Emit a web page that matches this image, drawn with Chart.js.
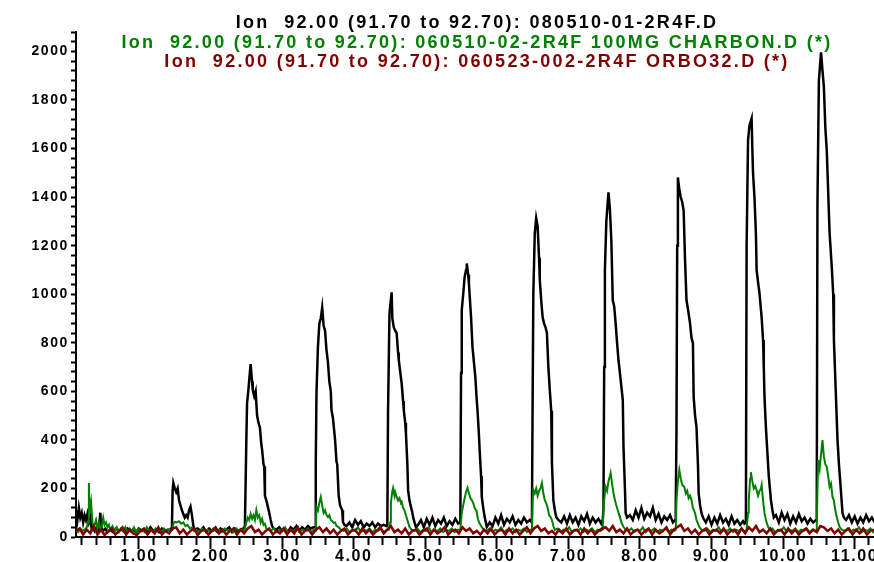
<!DOCTYPE html>
<html><head><meta charset="utf-8">
<script src="https://cdn.jsdelivr.net/npm/chart.js@4.4.1/dist/chart.umd.min.js"></script>
<style>html,body{margin:0;padding:0;background:#fff;}#wrap{width:874px;height:562px;}</style>
</head><body><div id="wrap"><canvas id="c" width="874" height="562"></canvas></div>
<script>
const titleLines = [
  "Ion  92.00 (91.70 to 92.70): 080510-01-2R4F.D",
  "Ion  92.00 (91.70 to 92.70): 060510-02-2R4F 100MG CHARBON.D (*)",
  "Ion  92.00 (91.70 to 92.70): 060523-002-2R4F ORBO32.D (*)"
];
const seriesColors = ["#000000", "#008000", "#800000"];

// [time (min), abundance]
const blackTrace = [
[0.12,110],[0.14,70],[0.16,120],[0.18,80],[0.20,100],[0.22,60],[0.24,90],[0.26,70],[0.28,95],[0.30,60],[0.32,80],[0.34,30],[0.36,40],[0.38,25],[0.40,35],[0.42,20],[0.44,30],[0.46,100],[0.47,40],[0.50,25],[0.53,35],[0.56,20],[0.60,30],[0.64,20],[0.68,35],[0.72,25],[0.76,30],[0.80,20],[0.84,35],[0.88,25],[0.92,30],[0.96,20],[1.00,35],[1.04,25],[1.08,30],[1.12,20],[1.16,40],[1.20,25],[1.24,30],[1.28,20],[1.32,35],[1.36,25],[1.40,30],[1.44,30],
[1.46,40],[1.47,190],[1.48,222],[1.50,200],[1.52,185],[1.54,200],[1.56,150],[1.58,130],[1.60,110],[1.62,95],[1.64,80],[1.66,90],[1.68,80],[1.70,110],[1.72,125],[1.74,90],[1.76,45],[1.78,30],
[1.82,35],[1.86,25],[1.90,40],[1.94,20],[1.98,35],[2.02,25],[2.06,30],[2.10,20],[2.14,35],[2.18,25],[2.22,30],[2.26,40],[2.30,20],[2.34,35],[2.38,25],[2.42,30],[2.46,35],
[2.48,45],[2.49,220],[2.50,400],[2.51,550],[2.53,610],[2.55,680],[2.56,712],[2.58,640],[2.59,605],[2.61,580],[2.63,600],[2.65,500],[2.67,470],[2.69,450],[2.71,380],[2.72,360],[2.74,300],[2.75,290],[2.76,170],[2.78,150],[2.80,125],[2.82,100],[2.84,70],[2.86,45],[2.88,35],
[2.92,30],[2.96,40],[3.00,25],[3.04,35],[3.08,20],[3.12,40],[3.16,30],[3.20,45],[3.24,25],[3.28,40],[3.32,30],[3.36,45],[3.40,35],[3.44,40],
[3.46,40],[3.47,300],[3.48,590],[3.50,780],[3.52,880],[3.54,900],[3.56,945],[3.58,870],[3.60,850],[3.62,770],[3.64,720],[3.66,640],[3.68,600],[3.69,523],[3.71,490],[3.73,430],[3.74,400],[3.76,310],[3.77,300],[3.79,170],[3.81,130],[3.84,110],[3.85,62],[3.87,50],
[3.90,45],[3.94,60],[3.98,40],[4.02,70],[4.06,50],[4.10,65],[4.14,40],[4.18,55],[4.22,45],[4.26,60],[4.30,40],[4.34,55],[4.38,45],[4.42,50],[4.46,45],
[4.47,50],[4.48,520],[4.50,920],[4.53,1008],[4.54,900],[4.56,864],[4.58,850],[4.60,840],[4.62,760],[4.63,728],[4.65,680],[4.67,634],[4.69,560],[4.70,523],[4.72,470],[4.73,428],[4.75,300],[4.76,193],[4.78,150],[4.80,124],[4.82,100],[4.83,82],[4.85,60],[4.87,41],
[4.90,50],[4.94,70],[4.98,40],[5.02,75],[5.06,50],[5.10,80],[5.14,45],[5.18,70],[5.22,55],[5.26,80],[5.30,45],[5.34,65],[5.38,50],[5.42,75],[5.46,55],[5.49,60],
[5.50,675],[5.51,934],[5.53,1000],[5.55,1070],[5.57,1100],[5.58,1127],[5.60,1080],[5.61,1045],[5.63,950],[5.64,905],[5.66,782],[5.68,720],[5.70,658],[5.72,560],[5.73,523],[5.75,420],[5.76,358],[5.78,250],[5.79,165],[5.81,120],[5.83,82],[5.86,41],
[5.90,60],[5.94,45],[5.98,80],[6.02,55],[6.06,90],[6.10,50],[6.14,75],[6.18,60],[6.22,85],[6.26,50],[6.30,70],[6.34,55],[6.38,80],[6.42,60],[6.46,70],[6.49,60],
[6.50,551],[6.51,1000],[6.53,1250],[6.55,1313],[6.57,1280],[6.59,1150],[6.60,1060],[6.62,975],[6.64,905],[6.66,880],[6.68,864],[6.70,840],[6.72,700],[6.74,605],[6.76,520],[6.77,305],[6.79,152],[6.81,111],[6.83,82],[6.86,70],
[6.90,60],[6.94,85],[6.98,55],[7.02,90],[7.06,60],[7.10,80],[7.14,50],[7.18,85],[7.22,65],[7.26,95],[7.30,55],[7.34,80],[7.38,60],[7.42,75],[7.46,55],[7.48,70],
[7.49,120],[7.50,700],[7.51,1100],[7.53,1300],[7.55,1380],[7.56,1420],[7.58,1350],[7.60,1222],[7.62,975],[7.64,950],[7.66,880],[7.68,800],[7.70,728],[7.72,675],[7.74,620],[7.76,564],[7.77,370],[7.79,200],[7.80,99],[7.82,80],
[7.86,90],[7.90,70],[7.94,110],[7.98,80],[8.02,120],[8.06,75],[8.10,100],[8.14,85],[8.18,120],[8.22,70],[8.26,95],[8.30,60],[8.34,85],[8.38,70],[8.42,90],[8.46,60],[8.49,70],
[8.50,120],[8.51,428],[8.52,1200],[8.53,1481],[8.55,1430],[8.57,1400],[8.59,1380],[8.61,1345],[8.63,1140],[8.65,975],[8.67,940],[8.70,880],[8.72,820],[8.74,798],[8.75,577],[8.77,500],[8.79,453],[8.81,300],[8.82,181],[8.84,130],[8.86,99],[8.88,80],
[8.92,60],[8.96,85],[9.00,50],[9.04,80],[9.08,55],[9.12,90],[9.16,60],[9.20,75],[9.24,50],[9.28,85],[9.32,55],[9.36,70],[9.40,50],[9.44,65],[9.46,55],[9.48,60],
[9.49,1193],[9.51,1634],[9.53,1695],[9.56,1724],[9.57,1600],[9.58,1498],[9.60,1399],[9.62,1251],[9.63,1099],[9.65,1050],[9.67,1004],[9.70,905],[9.72,811],[9.73,700],[9.74,577],[9.76,450],[9.77,399],[9.80,250],[9.83,152],[9.85,111],[9.87,80],
[9.90,90],[9.94,60],[9.98,100],[10.02,70],[10.06,95],[10.10,55],[10.14,85],[10.18,60],[10.22,95],[10.26,65],[10.30,80],[10.34,55],[10.38,75],[10.42,60],[10.46,70],
[10.47,120],[10.48,1374],[10.50,1881],[10.53,1996],[10.55,1922],[10.57,1852],[10.59,1687],[10.61,1593],[10.64,1333],[10.65,1251],[10.68,1111],[10.70,1000],[10.71,811],[10.74,564],[10.76,400],[10.78,300],[10.80,222],[10.83,99],[10.85,80],
[10.88,70],[10.92,90],[10.96,60],[11.00,85],[11.04,55],[11.08,80],[11.12,60],[11.16,90],[11.20,65],[11.24,80],[11.28,60]
];

const greenTrace = [
[0.12,30],[0.15,20],[0.18,35],[0.21,25],[0.24,30],[0.27,40],[0.29,60],[0.30,222],[0.31,100],[0.33,144],[0.35,60],[0.37,40],[0.40,70],[0.42,35],[0.44,60],[0.46,30],[0.48,40],[0.50,80],[0.52,50],[0.54,60],[0.56,40],[0.58,50],[0.60,30],[0.63,45],[0.66,25],[0.69,40],[0.72,20],[0.75,35],[0.78,25],[0.81,40],[0.84,20],[0.87,35],[0.90,25],[0.93,40],[0.96,20],[0.99,35],[1.02,25],[1.05,30],[1.08,20],[1.11,40],[1.14,25],[1.17,30],[1.20,20],[1.23,35],[1.26,25],[1.29,30],[1.32,20],[1.35,35],[1.38,25],[1.41,30],[1.44,25],
[1.47,30],[1.48,55],[1.50,62],[1.53,60],[1.56,65],[1.59,55],[1.62,60],[1.65,45],[1.68,50],[1.71,35],[1.74,40],[1.77,25],
[1.80,30],[1.84,20],[1.88,35],[1.92,25],[1.96,30],[2.00,20],[2.04,35],[2.08,25],[2.12,30],[2.16,20],[2.20,35],[2.24,25],[2.28,30],[2.32,20],[2.36,35],[2.40,25],[2.44,30],[2.47,25],
[2.50,60],[2.52,80],[2.54,70],[2.56,95],[2.58,75],[2.60,90],[2.62,70],[2.64,111],[2.66,80],[2.68,90],[2.70,60],[2.72,75],[2.74,50],[2.76,55],[2.78,35],[2.81,30],
[2.84,25],[2.88,35],[2.92,20],[2.96,30],[3.00,25],[3.04,40],[3.08,20],[3.12,30],[3.16,25],[3.20,35],[3.24,20],[3.28,30],[3.32,25],[3.36,35],[3.40,20],[3.44,30],[3.47,25],
[3.48,124],[3.50,110],[3.52,140],[3.54,165],[3.56,130],[3.58,99],[3.60,110],[3.62,90],[3.64,82],[3.66,90],[3.68,70],[3.70,65],[3.72,58],[3.74,60],[3.76,45],[3.79,41],[3.82,30],
[3.86,25],[3.90,35],[3.94,20],[3.98,30],[4.02,25],[4.06,40],[4.10,20],[4.14,30],[4.18,25],[4.22,35],[4.26,20],[4.30,30],[4.34,25],[4.38,35],[4.42,20],[4.46,30],[4.49,30],
[4.51,60],[4.52,140],[4.54,190],[4.55,202],[4.57,170],[4.58,185],[4.60,165],[4.62,150],[4.64,160],[4.66,140],[4.67,145],[4.69,120],[4.71,110],[4.72,99],[4.74,80],[4.76,60],[4.78,41],[4.81,30],
[4.85,25],[4.89,35],[4.93,20],[4.97,30],[5.01,25],[5.05,40],[5.09,20],[5.13,30],[5.17,25],[5.21,35],[5.25,20],[5.29,30],[5.33,25],[5.37,35],[5.41,20],[5.45,30],[5.49,30],
[5.51,99],[5.53,130],[5.55,160],[5.57,185],[5.59,202],[5.61,180],[5.63,160],[5.65,152],[5.67,140],[5.69,120],[5.71,110],[5.72,99],[5.74,70],[5.76,55],[5.79,41],[5.82,30],
[5.86,25],[5.90,35],[5.94,20],[5.98,30],[6.02,25],[6.06,40],[6.10,20],[6.14,30],[6.18,25],[6.22,35],[6.26,20],[6.30,30],[6.34,25],[6.38,35],[6.42,20],[6.46,30],[6.49,30],
[6.50,150],[6.51,193],[6.53,180],[6.55,200],[6.57,170],[6.59,190],[6.61,200],[6.63,222],[6.65,180],[6.67,152],[6.69,140],[6.71,120],[6.73,90],[6.75,82],[6.77,70],[6.79,45],[6.81,29],
[6.85,35],[6.89,20],[6.93,30],[6.97,25],[7.01,40],[7.05,20],[7.09,30],[7.13,25],[7.17,35],[7.21,20],[7.25,30],[7.29,25],[7.33,35],[7.37,20],[7.41,30],[7.45,25],[7.48,30],
[7.49,124],[7.51,180],[7.52,206],[7.54,190],[7.56,230],[7.58,250],[7.59,263],[7.61,220],[7.63,180],[7.65,152],[7.67,130],[7.69,110],[7.71,90],[7.72,82],[7.74,60],[7.77,41],[7.80,30],
[7.84,25],[7.88,35],[7.92,20],[7.96,30],[8.00,25],[8.04,40],[8.08,20],[8.12,30],[8.16,25],[8.20,35],[8.24,20],[8.28,30],[8.32,25],[8.36,35],[8.40,20],[8.44,30],[8.48,25],[8.50,30],
[8.51,152],[8.53,230],[8.55,276],[8.57,240],[8.59,215],[8.62,206],[8.64,180],[8.66,190],[8.68,160],[8.70,170],[8.72,152],[8.74,120],[8.77,99],[8.79,70],[8.81,55],[8.83,41],[8.86,30],
[8.90,25],[8.94,35],[8.98,20],[9.02,30],[9.06,25],[9.10,40],[9.14,20],[9.18,30],[9.22,25],[9.26,35],[9.30,20],[9.34,30],[9.38,25],[9.42,35],[9.46,20],[9.49,30],
[9.51,100],[9.52,152],[9.54,240],[9.55,267],[9.57,230],[9.59,200],[9.61,210],[9.63,193],[9.65,170],[9.67,190],[9.69,200],[9.70,214],[9.72,150],[9.74,99],[9.76,70],[9.78,50],[9.81,29],
[9.85,35],[9.89,20],[9.93,30],[9.97,25],[10.01,40],[10.05,20],[10.09,30],[10.13,25],[10.17,35],[10.21,20],[10.25,30],[10.29,25],[10.33,35],[10.37,20],[10.41,30],[10.45,25],[10.47,30],
[10.48,200],[10.49,317],[10.51,280],[10.53,340],[10.55,399],[10.57,330],[10.59,300],[10.61,288],[10.63,250],[10.65,206],[10.67,220],[10.69,165],[10.71,150],[10.73,110],[10.75,82],[10.77,60],[10.79,41],[10.82,30],
[10.86,25],[10.90,35],[10.94,20],[10.98,30],[11.02,25],[11.06,40],[11.10,20],[11.14,30],[11.18,25],[11.22,35],[11.26,20],[11.28,30]
];

const redTrace = [
[0.12,25],[0.17,35],[0.22,10],[0.27,30],[0.32,15],[0.37,45],[0.42,10],[0.47,30],[0.52,8],[0.57,25],[0.62,35],[0.67,10],[0.72,25],[0.77,40],[0.82,10],[0.87,30],[0.92,15],[0.97,8],[1.02,25],[1.07,35],[1.12,10],[1.17,30],[1.22,15],[1.27,40],[1.32,10],[1.37,25],[1.42,15],[1.47,35],[1.52,40],[1.57,15],[1.62,30],[1.67,10],[1.72,25],[1.77,35],[1.82,8],[1.87,25],[1.92,30],[1.97,10],[2.02,25],[2.07,40],[2.12,15],[2.17,30],[2.22,10],[2.27,25],[2.32,35],[2.37,10],[2.42,30],[2.47,15],[2.52,35],[2.57,45],[2.62,20],[2.67,30],[2.72,10],[2.77,25],[2.82,35],[2.87,10],[2.92,25],[2.97,15],
[3.02,35],[3.07,10],[3.12,30],[3.17,15],[3.22,40],[3.27,10],[3.32,25],[3.37,30],[3.42,10],[3.47,30],[3.52,40],[3.57,20],[3.62,35],[3.67,15],[3.72,30],[3.77,10],[3.82,25],[3.87,35],[3.92,10],[3.97,25],[4.02,30],[4.07,10],[4.12,35],[4.17,15],[4.22,30],[4.27,10],[4.32,25],[4.37,40],[4.42,15],[4.47,30],[4.52,45],[4.57,20],[4.62,30],[4.67,15],[4.72,35],[4.77,10],[4.82,25],[4.87,30],[4.92,10],[4.97,25],
[5.02,35],[5.07,10],[5.12,30],[5.17,15],[5.22,25],[5.27,40],[5.32,10],[5.37,25],[5.42,30],[5.47,15],[5.52,40],[5.57,25],[5.62,35],[5.67,15],[5.72,25],[5.77,10],[5.82,30],[5.87,15],[5.92,35],[5.97,10],[6.02,25],[6.07,30],[6.12,10],[6.17,35],[6.22,15],[6.27,30],[6.32,10],[6.37,25],[6.42,40],[6.47,15],[6.52,35],[6.57,45],[6.62,25],[6.67,35],[6.72,15],[6.77,25],[6.82,10],[6.87,30],[6.92,15],[6.97,35],
[7.02,10],[7.07,25],[7.12,30],[7.17,10],[7.22,35],[7.27,15],[7.32,30],[7.37,10],[7.42,25],[7.47,35],[7.52,40],[7.57,25],[7.62,45],[7.67,20],[7.72,30],[7.77,15],[7.82,35],[7.87,10],[7.92,25],[7.97,30],[8.02,10],[8.07,25],[8.12,35],[8.17,10],[8.22,30],[8.27,15],[8.32,25],[8.37,40],[8.42,10],[8.47,30],[8.52,40],[8.57,50],[8.62,25],[8.67,35],[8.72,15],[8.77,30],[8.82,10],[8.87,25],[8.92,35],[8.97,10],
[9.02,25],[9.07,30],[9.12,15],[9.17,35],[9.22,10],[9.27,25],[9.32,30],[9.37,10],[9.42,35],[9.47,15],[9.52,40],[9.57,25],[9.62,45],[9.67,20],[9.72,30],[9.77,15],[9.82,35],[9.87,10],[9.92,25],[9.97,30],[10.02,10],[10.07,35],[10.12,15],[10.17,30],[10.22,10],[10.27,25],[10.32,35],[10.37,15],[10.42,30],[10.47,20],[10.52,45],[10.57,40],[10.62,25],[10.67,35],[10.72,15],[10.77,30],[10.82,10],[10.87,25],[10.92,35],[10.97,10],
[11.02,30],[11.07,15],[11.12,35],[11.17,10],[11.22,25],[11.27,30]
];

const xRange = [0.12, 11.27];
const yRange = [0, 2080];
const xMinorStep = 0.2;
const yMinorStep = 40;
const yLabelStep = 200;

const toPoints = arr => arr.map(p => ({x: p[0], y: p[1]}));
const FONT = "'Liberation Sans', Arial, sans-serif";

const spacingPlugin = {
  id: 'letterSpacing',
  beforeUpdate(chart) { chart.ctx.letterSpacing = '1.6px'; },
  beforeDraw(chart) { chart.ctx.letterSpacing = '1.6px'; }
};

const titlePlugin = {
  id: 'stackedTitles',
  afterDraw(chart) {
    const ctx = chart.ctx;
    ctx.save();
    ctx.letterSpacing = '2.3px';
    ctx.font = "bold 18px " + FONT;
    ctx.textAlign = 'center';
    ctx.textBaseline = 'alphabetic';
    const ys = [28, 48, 67];
    titleLines.forEach((t, i) => {
      ctx.fillStyle = seriesColors[i];
      ctx.fillText(t, 477, ys[i]);
    });
    ctx.restore();
  }
};

const isWhole = v => Math.abs(v - Math.round(v)) < 1e-6;

new Chart(document.getElementById('c'), {
  type: 'line',
  data: {
    datasets: [
      {label: titleLines[0], data: toPoints(blackTrace), borderColor: seriesColors[0], borderWidth: 2.5, order: 3},
      {label: titleLines[1], data: toPoints(greenTrace), borderColor: seriesColors[1], borderWidth: 2, order: 2},
      {label: titleLines[2], data: toPoints(redTrace), borderColor: seriesColors[2], borderWidth: 2.5, order: 1}
    ]
  },
  options: {
    responsive: false,
    devicePixelRatio: 1,
    animation: false,
    events: [],
    elements: {
      line: {tension: 0, fill: false, borderCapStyle: 'butt', borderJoinStyle: 'miter'},
      point: {radius: 0}
    },
    layout: {padding: {top: 32, right: 0, left: 0, bottom: 0}},
    plugins: {legend: {display: false}, title: {display: false}, tooltip: {enabled: false}},
    scales: {
      x: {
        type: 'linear', min: xRange[0], max: xRange[1],
        afterFit: s => { s.height = 25; },
        border: {display: true, color: '#000', width: 2},
        grid: {drawOnChartArea: false, drawTicks: true, tickLength: 12, tickWidth: 2, tickColor: '#000',
               tickBorderDash: c => (c.tick && isWhole(c.tick.value)) ? [] : [7, 40]},
        ticks: {stepSize: xMinorStep, includeBounds: false, autoSkip: false, maxRotation: 0, padding: -2,
                color: '#000', font: {family: FONT, size: 16, weight: 'bold'},
                callback: v => isWhole(v) ? Math.round(v).toFixed(2) : ''}
      },
      y: {
        type: 'linear', min: yRange[0], max: yRange[1],
        afterFit: s => { s.width = 76; },
        border: {display: true, color: '#000', width: 2},
        grid: {drawOnChartArea: false, drawTicks: true, tickLength: 5, tickWidth: 2, tickColor: '#000'},
        ticks: {stepSize: yMinorStep, includeBounds: false, autoSkip: false, padding: 2,
                color: '#000', font: {family: FONT, size: 14, weight: 'bold'},
                callback: v => (Math.round(v) % yLabelStep === 0) ? String(Math.round(v)) : ''}
      }
    }
  },
  plugins: [spacingPlugin, titlePlugin]
});
</script>
</body></html>
